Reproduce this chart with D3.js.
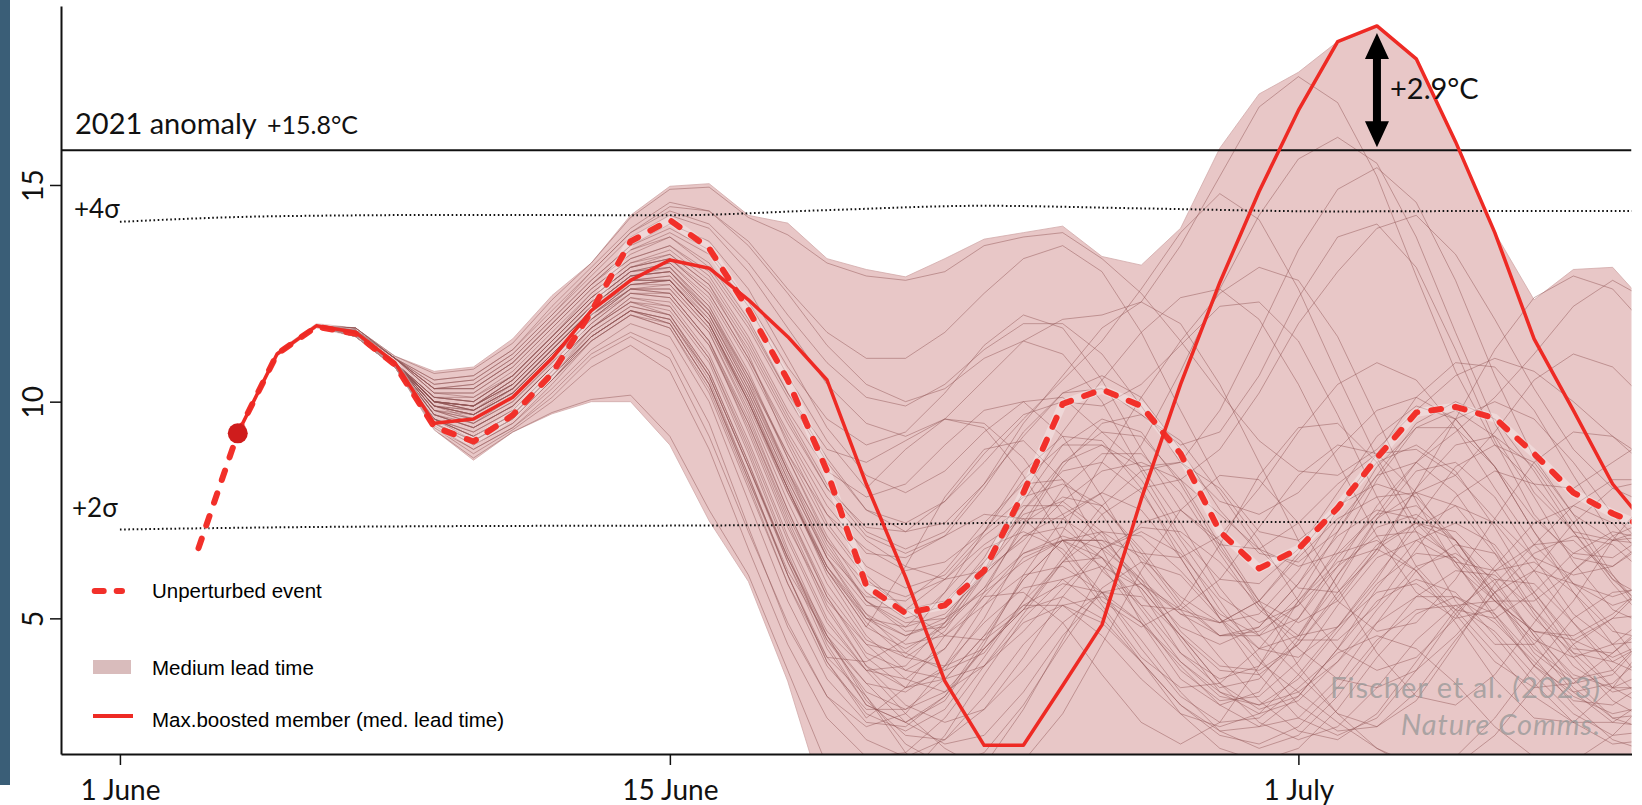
<!DOCTYPE html>
<html>
<head>
<meta charset="utf-8">
<script src="https://cdn.jsdelivr.net/npm/d3@7"></script>
<style>
  body { margin: 0; background: #fff; }
  svg { display: block; }
</style>
</head>
<body>
<svg id="chart" width="1642" height="805"></svg>
<script>
// days are counted from 1 June (1 July = 31)
const xTicks = [1, 15, 31];
const xTickLabels = ["1 June", "15 June", "1 July"];
const yTicks = [5, 10, 15];

const unperturbedDays = [3,4,5,6,7,8,9,10,11,12,13,14,15,16,17,18,19,20,21,22,23,24,25,26,27,28,29,30,31,32,33,34,35,36,37,38,39,40];
const unperturbed = [6.62,9.27,11.1,11.73,11.57,10.85,9.42,9.08,9.69,10.65,12.08,13.7,14.19,13.54,12.12,10.5,8.4,5.75,5.12,5.3,6.1,7.9,9.95,10.28,9.9,8.8,7.0,6.15,6.6,7.55,8.7,9.75,9.88,9.62,8.8,7.9,7.42,7.05];

const leadDays = [4,5,6,7,8,9,10,11,12,13,14,15,16,17,18,19,20,21,22,23,24,25,26,27,28,29,30,31,32,33,34,35,36,37,38,39,40];
const boosted = [9.27,11.1,11.75,11.6,10.9,9.5,9.6,10.1,11.0,12.1,12.8,13.27,13.08,12.35,11.5,10.5,8.1,5.95,3.55,2.07,2.07,3.45,4.85,7.75,10.4,12.75,14.85,16.72,18.31,18.67,17.91,16.0,13.9,11.45,9.8,8.1,7.0];
const bandHigh = [9.27,11.15,11.8,11.7,11.05,10.7,10.8,11.45,12.45,13.2,14.3,14.97,15.03,14.3,14.12,13.3,13.05,12.88,13.3,13.75,13.9,14.05,13.35,13.15,14.0,15.85,17.1,17.6,18.31,18.67,17.91,16.0,13.9,12.35,13.05,13.1,12.1];
const bandLow = [9.27,11.05,11.7,11.5,10.8,9.35,8.65,9.3,9.72,10.0,10.0,9.0,7.25,5.85,3.55,0.6,0.4,0.3,0.2,0.4,0.5,0.4,0.3,0.2,0.1,0.3,0.5,0.6,0.4,0.2,0.1,0.2,0.4,0.5,0.3,0.2,0.3];

// 4-6 June, the same for every member
const memberStart = [9.27, 11.1, 11.75];
// 7 June .. 10 July
const members = [
  [11.6,10.9,10.0,9.9,10.4,11.3,12.2,12.9,13.0,12.1,10.6,8.8,7.1,5.9,5.2,5.4,6.3,7.5,8.4,8.6,7.9,6.6,5.2,4.3,4.1,4.8,6.0,7.1,7.6,7.2,6.1,4.9,4.0,3.6],
  [11.55,10.8,9.6,9.2,9.7,10.6,11.5,12.1,11.9,10.6,8.5,6.4,4.6,3.2,1.9,1.2,1.6,2.9,4.5,6.1,7.2,7.5,6.8,5.4,3.9,2.8,2.5,3.1,4.4,5.8,6.7,6.8,6.0,4.8],
  [11.65,11.0,10.3,10.4,11.0,11.9,12.8,13.6,14.1,13.7,12.6,11.0,9.4,8.3,7.9,8.4,9.3,10.0,10.1,9.3,8.5,8.6,9.8,11.6,13.5,14.9,15.4,14.6,12.8,10.6,8.7,7.4,6.8,6.9],
  [11.55,10.9,9.6,9.3,9.8,10.7,11.7,12.3,12.0,10.6,8.5,6.4,4.7,3.8,3.9,4.9,6.3,7.4,7.7,7.0,5.6,4.2,3.4,3.6,4.6,6.0,7.1,7.4,6.8,5.5,4.2,3.5,3.7,4.7],
  [11.6,10.9,10.1,10.0,10.6,11.5,12.4,13.1,13.3,12.6,11.2,9.5,8.0,7.1,7.0,7.7,8.8,9.7,10.0,9.9,10.4,11.3,12.2,12.3,11.4,9.7,7.8,6.2,5.2,5.0,5.6,6.5,7.0,6.8],
  [11.6,10.9,9.9,9.7,10.2,11.1,12.0,12.7,12.8,11.9,10.2,8.2,6.4,5.1,4.6,5.0,6.1,7.2,7.8,7.6,6.6,5.4,4.6,4.6,5.5,7.0,8.5,9.4,9.4,8.5,7.0,5.6,4.7,4.5],
  [11.5,10.8,9.5,9.0,9.5,10.4,11.4,12.0,11.7,10.2,8.0,5.8,4.1,3.2,2.1,1.6,1.9,3.0,4.4,5.7,6.3,6.0,5.0,3.7,2.7,2.3,2.7,3.8,5.1,6.1,6.3,5.6,4.4,3.3],
  [11.7,11.0,10.5,10.6,11.2,12.2,13.1,14.0,14.6,14.4,13.6,12.5,11.3,10.4,10.0,10.3,11.0,11.4,11.1,10.0,8.4,6.9,5.9,5.8,6.6,7.9,9.2,9.9,9.6,8.5,7.0,5.8,5.3,5.6],
  [11.6,10.9,10.0,9.8,10.3,11.2,12.1,12.8,12.9,12.0,10.4,8.5,6.7,5.4,4.8,5.1,6.0,6.9,7.4,7.9,9.0,10.7,12.6,14.3,15.6,16.1,15.5,13.8,11.6,9.5,7.9,7.0,6.8,7.1],
  [11.55,10.9,9.7,9.5,10.0,10.9,11.8,12.5,12.5,11.4,9.6,7.5,5.5,4.1,3.4,3.6,4.6,5.9,6.8,7.0,6.4,5.5,4.9,5.1,6.1,7.5,8.6,9.0,8.4,7.1,5.6,4.5,4.1,4.5],
  [11.65,11.0,10.2,10.2,10.8,11.7,12.6,13.3,13.6,13.0,11.7,10.1,8.6,7.5,7.0,7.2,8.1,9.2,10.2,10.6,10.1,8.9,7.5,6.5,6.3,7.0,8.3,9.5,10.0,9.6,8.4,7.0,5.9,5.4],
  [11.6,10.9,9.9,9.6,10.1,11.0,11.9,12.6,12.6,11.6,9.8,7.7,5.8,4.5,4.1,4.7,6.0,7.5,8.6,9.0,8.5,7.2,5.7,4.6,3.7,2.8,2.0,1.5,1.6,2.3,3.4,4.4,5.0,5.1],
  [11.5,10.8,9.4,8.9,9.4,10.2,11.1,11.6,11.2,9.5,7.1,4.8,3.2,2.5,2.8,3.9,5.3,6.4,6.8,6.4,5.3,4.2,3.6,3.9,5.0,6.4,7.4,7.6,6.8,5.5,4.3,3.6,3.8,4.7],
  [11.7,11.0,10.4,10.5,11.1,12.0,12.9,13.8,14.3,14.0,13.0,11.7,10.4,9.5,9.2,9.6,10.5,11.4,11.9,12.0,12.3,13.6,15.2,16.8,17.5,16.9,15.2,12.9,10.7,9.0,8.1,8.0,8.6,9.2],
  [11.6,10.9,9.8,9.7,10.2,11.1,12.0,12.6,12.7,11.7,9.9,7.9,6.1,5.0,4.8,5.6,7.0,8.4,9.2,9.1,8.0,6.4,5.0,4.3,4.6,5.8,7.3,8.4,8.6,7.8,6.4,5.1,4.4,4.5],
  [11.6,10.9,10.0,9.9,10.5,11.4,12.3,13.0,13.2,12.4,10.9,9.1,7.4,6.2,5.7,6.0,7.0,8.2,9.0,9.0,8.2,6.8,5.5,4.9,5.3,6.6,8.2,9.4,9.8,9.2,7.8,6.3,5.2,4.8],
  [11.5,10.8,9.6,9.2,9.7,10.6,11.5,12.1,11.9,10.5,8.3,6.0,4.0,2.8,2.4,2.9,4.1,5.4,6.3,6.4,5.7,4.6,3.8,3.7,4.4,5.6,6.7,7.2,6.8,5.8,4.6,3.7,3.4,3.8],
  [11.65,11.0,10.3,10.3,10.9,11.8,12.7,13.5,13.9,13.4,12.2,10.6,9.1,8.0,8.9,9.6,9.4,8.3,6.8,5.4,4.8,5.3,6.7,8.3,9.4,9.5,8.6,7.0,5.4,4.4,4.4,5.4,6.8,7.9],
  [11.6,10.9,9.9,9.7,10.2,11.1,12.0,12.7,12.7,11.7,10.0,8.0,6.1,4.8,6.2,7.8,8.9,9.1,8.2,6.6,4.9,3.6,3.0,3.3,4.5,6.0,7.3,7.9,7.6,6.5,5.1,3.9,3.3,3.5],
  [11.55,10.9,9.7,9.4,9.9,10.8,11.7,12.4,12.3,11.1,9.1,6.9,5.0,3.8,2.8,2.0,1.5,1.7,2.8,4.4,6.1,7.5,8.3,8.2,7.2,5.7,4.2,3.2,3.0,3.7,4.9,6.1,6.8,6.7],
  [11.7,11.05,10.65,10.75,11.35,12.35,13.2,14.25,14.9,14.95,14.25,13.85,13.2,12.9,12.8,13.0,13.6,13.8,13.9,13.3,12.5,11.4,10.2,9.1,8.4,8.3,8.9,9.8,10.6,11.0,10.7,10.0,9.2,8.6],
  [11.6,10.9,9.8,9.6,10.1,11.0,11.9,12.5,12.4,11.3,9.5,7.4,5.5,4.2,3.8,4.3,5.6,7.2,8.6,9.3,9.2,8.2,6.7,5.3,4.6,4.8,5.9,7.3,8.5,9.0,8.6,7.4,6.0,5.0],
  [11.5,10.8,9.5,9.1,9.6,10.5,11.4,12.0,11.8,10.4,8.3,6.0,4.0,2.7,3.4,4.6,5.5,5.6,4.9,3.7,2.6,2.1,2.6,3.9,5.4,6.5,6.8,6.1,4.9,3.6,2.7,2.6,3.4,4.6],
  [11.65,11.0,10.2,10.1,10.7,11.6,12.5,13.2,13.5,12.8,11.4,9.7,8.1,7.0,6.6,7.0,8.1,9.5,10.6,11.7,12.3,11.8,10.4,8.6,6.8,5.4,4.7,4.9,5.9,7.3,8.6,9.3,9.2,8.4],
  [11.6,10.9,10.0,9.9,10.4,11.3,12.2,12.9,13.1,12.2,10.6,8.7,6.9,5.6,5.0,5.3,6.4,7.9,9.3,10.5,11.6,12.4,12.6,11.9,10.4,8.6,6.9,5.6,5.0,5.2,6.1,7.2,8.0,8.2],
  [11.5,10.8,9.35,8.7,9.3,9.75,10.05,10.15,9.2,7.5,6.0,3.8,1.6,1.0,1.3,2.3,3.7,5.0,5.9,6.2,5.7,4.6,3.5,2.9,3.2,4.3,5.7,6.8,7.2,6.7,5.5,4.2,3.4,3.4],
  [11.6,10.9,10.1,10.0,10.6,11.5,12.4,13.1,13.4,12.7,11.3,9.6,8.0,6.9,6.5,6.9,8.0,9.3,10.2,10.3,9.7,9.0,9.3,10.6,12.4,13.8,14.1,13.1,11.2,9.1,7.4,6.4,6.2,6.8],
  [11.6,10.9,9.9,9.7,10.3,11.2,12.1,12.8,12.8,11.8,10.1,8.0,6.1,4.8,4.3,4.8,6.1,7.7,9.0,9.6,9.3,8.1,6.6,5.4,4.9,5.4,6.6,8.0,9.0,9.2,8.5,7.2,5.9,5.1],
  [11.7,11.0,10.4,10.5,11.1,12.0,13.0,13.9,14.5,14.4,13.7,12.6,11.6,11.0,11.0,11.6,12.5,13.3,13.6,13.0,11.6,9.8,8.1,7.0,6.8,7.5,8.8,10.1,10.9,10.8,9.8,8.3,6.9,6.1],
  [11.55,10.9,9.8,9.5,10.0,10.9,11.8,12.5,12.4,11.3,9.4,7.2,5.2,3.9,3.4,3.8,5.0,6.6,8.0,8.8,8.8,7.9,6.5,5.2,4.5,4.5,5.3,6.6,7.8,8.4,8.1,7.0,5.8,4.8],
  [11.6,10.9,10.0,9.9,10.5,11.4,12.3,13.0,13.2,12.3,10.7,8.7,6.8,5.4,4.7,4.8,5.7,7.1,8.5,9.5,9.7,9.1,7.9,6.6,5.7,5.6,6.5,8.0,9.6,11.2,12.4,12.9,12.6,11.6],
  [11.55,10.8,9.6,9.3,9.8,10.7,11.6,12.2,12.0,10.7,8.6,6.3,4.3,3.0,2.6,3.1,4.4,6.0,7.3,7.9,7.5,6.4,5.0,4.0,3.3,2.6,2.0,1.6,1.8,2.7,3.9,5.0,5.6,5.7],
  [11.6,10.9,10.1,10.1,10.6,11.5,12.5,13.2,13.4,12.7,11.1,9.0,7.2,6.0,5.2,4.6,4.5,5.2,6.3,7.4,8.0,8.2,8.9,10.2,11.8,13.0,14.0,14.3,13.4,11.9,10.3,8.9,8.0,7.6],
  [11.6,10.9,9.8,9.5,10.1,11.0,11.9,12.6,12.5,11.4,9.3,7.1,5.4,4.4,3.6,3.3,3.9,5.1,6.3,7.0,6.9,6.1,5.1,4.6,5.0,6.2,7.6,8.6,9.3,10.1,11.1,12.2,12.8,12.3],
  [11.55,10.85,9.6,9.1,9.6,10.5,11.5,12.1,11.8,10.4,8.2,6.1,4.6,3.5,2.6,2.1,2.3,3.3,4.6,5.6,5.8,5.2,4.1,3.1,2.4,2.2,2.8,4.0,5.2,5.9,5.8,4.9,3.8,2.9],
  [11.6,10.9,10.0,9.9,10.4,11.3,12.2,12.9,13.0,12.1,10.5,8.8,7.4,6.6,6.1,6.3,7.0,7.8,8.1,7.6,6.5,5.3,4.6,4.8,5.8,7.2,8.3,8.6,7.9,6.6,5.2,4.3,4.2,4.9],
  [11.65,11.0,10.3,10.3,10.9,11.8,12.7,13.4,13.8,13.2,11.9,10.2,8.7,7.5,7.2,7.7,8.6,9.6,10.5,11.4,12.6,13.9,14.8,14.2,12.6,10.6,8.7,7.2,6.3,6.1,6.7,7.6,8.2,8.2],
  [11.6,10.9,9.9,9.8,10.3,11.2,12.1,12.7,12.8,11.8,10.0,7.9,6.2,5.1,4.2,3.8,4.2,5.4,7.0,8.6,10.1,11.4,12.5,13.1,12.8,11.5,9.6,7.7,6.2,5.4,5.4,6.1,6.9,7.3],
  [11.55,10.8,9.5,9.1,9.6,10.5,11.5,12.1,11.8,10.4,8.2,6.0,4.1,4.0,4.5,5.6,6.6,7.0,6.6,5.6,4.3,3.2,2.6,2.7,3.4,4.2,4.6,4.3,3.5,2.5,1.8,1.7,2.3,3.2],
  [11.6,10.9,10.0,9.8,10.4,11.3,12.2,12.9,13.0,12.0,10.3,8.4,6.8,5.8,5.5,5.9,6.7,7.3,7.3,6.7,5.8,5.1,4.9,5.4,6.4,7.3,7.8,7.9,8.3,9.3,10.5,11.1,10.8,9.9],
  [11.6,10.9,9.9,9.7,10.2,11.1,12.0,12.6,12.5,11.4,9.5,7.3,5.3,3.9,3.0,2.6,2.9,3.8,4.9,5.6,5.5,4.6,3.5,2.6,2.2,2.5,3.4,4.5,5.3,5.4,4.7,3.6,2.7,2.4],
  [11.55,10.85,9.7,9.4,9.9,10.8,11.7,12.3,12.2,11.0,8.9,6.6,4.6,3.1,2.3,2.2,2.9,4.1,5.5,6.6,7.0,6.5,5.4,4.1,3.0,2.4,2.5,3.3,4.5,5.6,6.1,5.8,4.8,3.6],
  [11.6,10.9,10.0,9.9,10.5,11.4,12.3,13.0,13.1,12.2,10.5,8.4,6.4,5.0,4.4,4.6,5.3,6.0,6.2,5.6,4.5,3.3,2.4,2.0,2.3,3.2,4.4,5.5,6.1,6.0,5.2,4.1,3.1,2.6],
  [11.6,10.9,9.8,9.6,10.1,11.0,11.9,12.6,12.6,11.6,9.7,7.5,5.6,4.4,4.2,4.9,6.0,6.9,7.1,6.4,5.2,4.0,3.2,3.0,3.6,4.7,5.8,6.5,6.4,5.6,4.4,3.3,2.6,2.5],
  [11.5,10.8,9.45,8.9,9.4,10.1,11.0,11.5,11.0,9.2,7.0,4.9,3.2,2.2,1.8,2.2,3.2,4.4,5.3,5.5,4.9,3.9,3.0,2.5,2.7,3.6,4.9,6.1,6.7,6.5,5.6,4.4,3.4,2.9],
  [11.6,10.9,10.1,10.0,10.6,11.5,12.4,13.1,13.3,12.5,11.0,9.2,7.6,6.5,6.4,6.9,7.4,7.3,6.5,5.3,4.1,3.4,3.5,4.3,5.4,6.3,6.6,6.1,5.1,4.0,3.4,3.5,4.2,5.0],
  [11.55,10.85,9.7,9.4,9.9,10.8,11.7,12.3,12.1,10.9,8.8,6.5,4.4,3.0,2.6,3.2,4.5,5.9,6.8,6.8,5.9,4.5,3.3,2.8,3.1,4.0,5.2,6.2,6.5,5.9,4.6,3.4,2.7,2.8],
  [11.6,10.9,10.0,9.8,10.3,11.2,12.1,12.8,12.9,11.9,10.2,8.2,6.4,5.3,5.2,5.9,6.9,7.6,7.6,6.9,5.8,4.8,4.4,4.8,5.8,6.9,7.5,7.3,6.3,5.0,3.9,3.3,3.5,4.3],
  [11.65,11.0,10.2,10.2,10.8,11.7,12.6,13.3,13.6,12.9,11.5,9.8,8.4,7.8,8.1,9.0,9.8,10.0,9.2,7.8,6.3,5.2,4.9,5.4,6.5,7.6,8.1,7.8,6.8,5.6,4.7,4.5,5.0,5.9],
  [11.55,10.8,9.6,9.2,9.7,10.6,11.5,12.1,11.9,10.6,8.5,6.3,4.5,3.5,3.3,3.9,4.9,5.7,5.9,5.2,4.0,2.8,2.0,1.7,2.0,2.9,4.1,5.1,5.5,5.1,4.1,3.0,2.2,1.9],
  [11.6,10.9,9.9,9.7,10.2,11.1,12.0,12.7,12.8,11.8,10.0,8.0,6.0,4.6,3.8,3.6,3.9,4.7,5.7,6.6,7.1,7.0,6.3,5.3,4.3,3.6,3.4,3.8,4.6,5.6,6.5,6.9,6.7,5.9],
  [11.7,11.0,10.5,10.6,11.2,12.1,13.0,13.9,14.4,14.1,13.2,12.0,10.9,10.1,9.9,10.4,11.2,11.8,11.8,11.1,9.9,8.6,7.7,7.4,7.9,8.9,9.8,10.1,9.6,8.5,7.3,6.5,6.4,7.0],
  [11.65,11.0,10.3,10.3,10.9,11.8,12.7,13.5,13.8,13.1,11.8,10.2,8.9,8.6,9.1,9.6,9.5,8.7,7.4,6.1,5.3,5.2,5.9,7.1,8.3,9.0,8.8,7.9,6.6,5.4,4.7,4.6,5.1,5.9],
  [11.5,10.8,9.5,9.0,9.5,10.3,11.2,11.8,11.5,10.0,7.7,5.4,3.6,2.6,2.5,3.2,4.3,5.2,5.5,5.0,4.0,3.0,2.4,2.5,3.2,4.3,5.4,5.9,5.6,4.6,3.5,2.6,2.1,2.2],
  [11.6,10.9,10.0,9.9,10.4,11.3,12.2,12.9,13.0,12.0,10.3,8.3,6.5,5.5,5.4,6.1,7.2,8.1,8.2,7.4,6.0,4.7,3.9,3.8,4.4,5.5,6.6,7.2,7.0,6.1,5.0,4.2,4.0,4.5],
  [11.6,10.9,9.9,9.8,10.3,11.2,12.1,12.8,12.8,11.8,10.1,8.1,6.2,4.9,4.1,3.9,4.3,5.2,6.4,7.6,8.4,8.6,8.0,6.8,5.4,4.3,3.8,4.1,5.0,6.2,7.2,7.6,7.2,6.2],
  [11.55,10.9,9.7,9.4,9.9,10.8,11.7,12.4,12.2,11.0,9.0,6.8,4.9,3.8,3.6,4.3,5.5,6.5,6.8,6.2,5.0,3.8,3.1,3.2,4.0,5.3,6.4,6.8,6.3,5.1,3.9,3.1,3.0,3.6],
  [11.6,10.9,10.1,10.0,10.6,11.5,12.4,13.1,13.3,12.5,11.0,9.3,7.8,6.8,6.2,5.9,6.1,6.8,7.7,8.4,8.6,8.2,7.4,6.6,6.2,6.5,7.4,8.6,9.6,10.0,9.6,8.6,7.4,6.5],
  [11.5,10.8,9.4,8.8,9.35,10.0,10.8,11.3,10.7,8.9,6.6,4.4,2.7,1.8,1.9,2.7,3.9,4.9,5.3,4.9,4.0,3.0,2.3,2.1,2.5,3.4,4.5,5.2,5.3,4.7,3.7,2.8,2.3,2.4],
  [11.6,10.9,10.0,9.8,10.3,11.2,12.1,12.8,12.8,11.8,10.0,8.0,6.2,5.0,4.6,4.9,5.7,6.5,6.9,6.6,5.9,5.1,4.6,4.7,5.3,6.2,6.9,7.0,6.4,5.4,4.5,4.1,4.4,5.1],
  [11.6,10.9,10.0,9.9,10.5,11.4,12.3,13.0,13.1,12.1,10.4,8.4,6.6,5.4,4.9,5.0,5.6,6.3,6.8,6.8,6.5,6.4,6.9,8.0,9.3,10.4,10.9,10.5,9.4,8.0,6.7,5.8,5.5,5.8],
  [11.55,10.85,9.6,9.2,9.7,10.6,11.6,12.2,12.0,10.7,8.6,6.4,4.5,3.3,2.9,3.3,4.3,5.3,5.8,5.6,4.9,4.0,3.3,3.0,3.3,4.0,4.9,5.5,5.5,4.9,4.0,3.2,2.8,3.0],
  [11.65,11.0,10.3,10.4,11.0,11.9,12.8,13.6,14.0,13.5,12.3,10.8,9.6,9.0,9.3,10.2,11.3,12.0,11.7,10.5,8.9,7.5,6.7,6.6,7.2,8.1,8.8,8.9,8.3,7.3,6.4,6.0,6.2,6.9],
  [11.55,10.8,9.5,9.1,9.6,10.5,11.4,12.0,11.7,10.3,8.1,5.8,3.9,2.9,2.9,3.6,4.6,5.3,5.3,4.6,3.6,2.8,2.5,2.8,3.7,4.8,5.6,5.8,5.2,4.2,3.2,2.6,2.6,3.2]
];

// climatological thresholds
const sigmaDays = [1, 5, 10, 15, 19, 23, 27, 32, 36, 40];
const plus4sigma = [14.15, 14.28, 14.31, 14.3, 14.42, 14.52, 14.46, 14.39, 14.4, 14.4];
const plus2sigma = [7.05, 7.1, 7.13, 7.14, 7.16, 7.2, 7.23, 7.22, 7.21, 7.2];

const anomaly2021 = 15.8;
const peakDay = 33;
const peakValue = 18.67;

const svg = d3.select('#chart');
const margin = { left: 61, right: 1631.5, top: 6, bottom: 754 };
const x = d3.scaleLinear().domain([-0.5, 39.48]).range([margin.left, margin.right]);
const y = d3.scaleLinear().domain([1.87, 19.13]).range([margin.bottom, margin.top]);

svg.append('rect').attr('x', 0).attr('y', 0).attr('width', 10).attr('height', 785).attr('fill', '#3a5e77');

svg.append('clipPath').attr('id', 'plot').append('rect')
    .attr('x', margin.left).attr('y', margin.top)
    .attr('width', margin.right - margin.left).attr('height', margin.bottom - margin.top);
const plot = svg.append('g').attr('clip-path', 'url(#plot)');

const line = d3.line().x(d => x(d[0])).y(d => y(d[1]));

// ensemble range
const area = d3.area().x(d => x(d[0])).y0(d => y(d[1])).y1(d => y(d[2]));
plot.append('path').datum(d3.zip(leadDays, bandLow, bandHigh))
    .attr('d', area).attr('fill', '#e8c7c7').attr('stroke', '#d2aaaa').attr('stroke-width', 0.8);

// members
plot.append('g').selectAll('path').data(members).enter().append('path')
    .attr('d', m => line(d3.zip(leadDays, memberStart.concat(m))))
    .attr('fill', 'none').attr('stroke', '#8e5252').attr('stroke-opacity', 0.55)
    .attr('stroke-width', 0.85).attr('stroke-linejoin', 'round');

// sigma lines
[plus4sigma, plus2sigma].forEach(s => {
    plot.append('path').datum(d3.zip(sigmaDays, s))
        .attr('d', line.curve(d3.curveMonotoneX)).attr('fill', 'none')
        .attr('stroke', '#111').attr('stroke-width', 2).attr('stroke-dasharray', '1.6,2.6');
    line.curve(d3.curveLinear);
});

// 2021 anomaly
plot.append('line').attr('x1', x(-0.5)).attr('x2', x(39.48))
    .attr('y1', y(anomaly2021)).attr('y2', y(anomaly2021))
    .attr('stroke', '#111').attr('stroke-width', 2);

// unperturbed event
const unp = d3.zip(unperturbedDays, unperturbed);
plot.append('path').datum(unp).attr('d', line).attr('fill', 'none')
    .attr('stroke', '#fff').attr('stroke-opacity', 0.3).attr('stroke-width', 8.5).attr('stroke-linejoin', 'round');
plot.append('path').datum(unp).attr('d', line).attr('fill', 'none')
    .attr('stroke', '#f2302a').attr('stroke-width', 6).attr('stroke-linecap', 'round')
    .attr('stroke-linejoin', 'round').attr('stroke-dasharray', '10,14');

// max boosted member
plot.append('path').datum(d3.zip(leadDays, boosted)).attr('d', line).attr('fill', 'none')
    .attr('stroke', '#ee2a24').attr('stroke-width', 3.5).attr('stroke-linejoin', 'round');

plot.append('circle').attr('cx', x(leadDays[0])).attr('cy', y(boosted[0])).attr('r', 10).attr('fill', '#cf1c1c');

// arrow between anomaly and boosted peak
const ax = x(peakDay), yT = y(peakValue) + 7, yB = y(anomaly2021) - 3;
svg.append('path').attr('fill', '#000').attr('d',
    `M${ax},${yT} L${ax + 12},${yT + 26} L${ax + 4},${yT + 26} L${ax + 4},${yB - 26} L${ax + 12},${yB - 26}` +
    ` L${ax},${yB} L${ax - 12},${yB - 26} L${ax - 4},${yB - 26} L${ax - 4},${yT + 26} L${ax - 12},${yT + 26} Z`);

// axes
const gx = svg.append('g').attr('transform', `translate(0,${margin.bottom})`)
    .call(d3.axisBottom(x).tickValues(xTicks).tickFormat(d => xTickLabels[xTicks.indexOf(d)]).tickSize(11).tickSizeOuter(0));
gx.select('.domain').attr('stroke', '#111').attr('stroke-width', 2);
gx.selectAll('.tick line').attr('stroke', '#111').attr('stroke-width', 1.5);
gx.selectAll('.tick text').attr('y', 46).attr('dy', 0)
    .attr('font-family', 'Lato, sans-serif').attr('font-size', '28px').attr('fill', '#111');

const gy = svg.append('g').attr('transform', `translate(${margin.left},0)`)
    .call(d3.axisLeft(y).tickValues(yTicks).tickSize(11).tickSizeOuter(0));
gy.select('.domain').attr('stroke', '#111').attr('stroke-width', 2);
gy.selectAll('.tick line').attr('stroke', '#111').attr('stroke-width', 1.5);
gy.selectAll('.tick text').attr('x', 0).attr('y', -18).attr('dy', 0)
    .attr('transform', 'rotate(-90)').attr('text-anchor', 'middle')
    .attr('font-family', 'Lato, sans-serif').attr('font-size', '28px').attr('fill', '#111');

// annotations
const ann = svg.append('g').attr('font-family', 'Lato, sans-serif').attr('fill', '#111');
ann.append('text').attr('x', 75).attr('y', 134).attr('font-size', '29px').text('2021 anomaly');
ann.append('text').attr('x', 267).attr('y', 134).attr('font-size', '25px').text('+15.8°C');
ann.append('text').attr('x', 74).attr('y', 218).attr('font-size', '26px').text('+4σ');
ann.append('text').attr('x', 72).attr('y', 517).attr('font-size', '26px').text('+2σ');
ann.append('text').attr('x', 1390).attr('y', 99).attr('font-size', '29px').text('+2.9°C');

// watermark
const wm = svg.append('g').attr('font-family', 'Lato, sans-serif').attr('font-size', '29px')
    .attr('letter-spacing', '1px').attr('fill', '#9a9a9a').attr('fill-opacity', 0.8).attr('text-anchor', 'end');
wm.append('text').attr('x', 1601).attr('y', 698).text('Fischer et al. (2023)');
wm.append('text').attr('x', 1601).attr('y', 735).attr('font-style', 'italic').text('Nature Comms.');

// legend
const lg = svg.append('g').attr('font-family', '"Liberation Sans", Arial, sans-serif').attr('font-size', '20.5px');
lg.append('line').attr('x1', 94.7).attr('x2', 122).attr('y1', 591).attr('y2', 591)
    .attr('stroke', '#f2302a').attr('stroke-width', 6).attr('stroke-linecap', 'round').attr('stroke-dasharray', '9,13');
lg.append('text').attr('x', 152).attr('y', 598).text('Unperturbed event');
lg.append('rect').attr('x', 93).attr('y', 660).attr('width', 38).attr('height', 14).attr('fill', '#d9bcbc');
lg.append('text').attr('x', 152).attr('y', 675).text('Medium lead time');
lg.append('line').attr('x1', 93).attr('x2', 133).attr('y1', 716).attr('y2', 716)
    .attr('stroke', '#ee2a24').attr('stroke-width', 4);
lg.append('text').attr('x', 152).attr('y', 727).text('Max.boosted member (med. lead time)');
</script>
</body>
</html>
